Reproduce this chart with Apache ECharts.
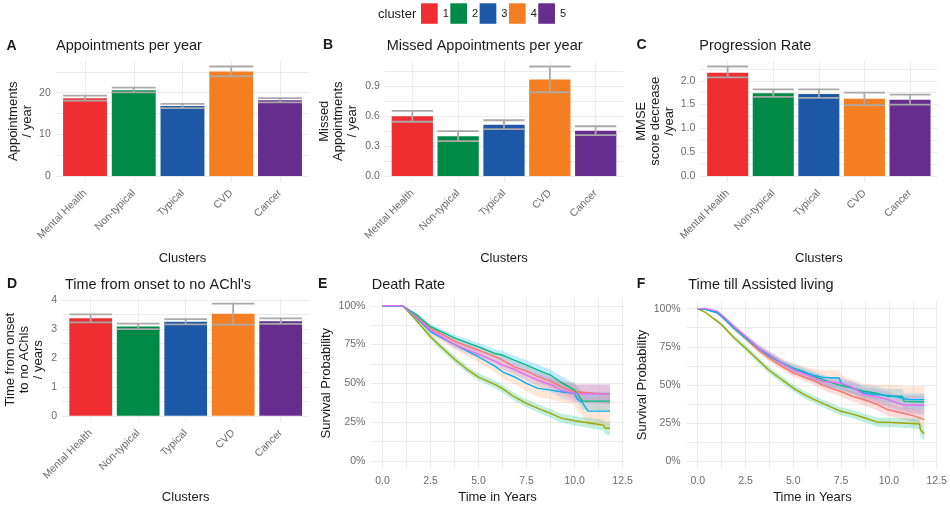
<!DOCTYPE html>
<html><head><meta charset="utf-8">
<script src="https://cdn.jsdelivr.net/npm/echarts@6/dist/echarts.min.js"></script>
<style>html,body{margin:0;padding:0;background:#fff}#c{width:950px;height:507px}</style>
</head><body><div id="c"></div>
<script>
// ---------- data ----------
const clusters = ['Mental Health', 'Non-typical', 'Typical', 'CVD', 'Cancer'];
const clusterPos = [1, 2, 3, 4, 5];
const clusterIds = ['1', '2', '3', '4', '5'];

// A: Appointments per year
const apptMean = [18.7, 20.6, 16.8, 25.1, 18.2];
const apptLo   = [18.1, 20.1, 16.3, 23.9, 17.7];
const apptHi   = [19.3, 21.2, 17.3, 26.3, 18.7];
const apptTickVals = [0, 10, 20];
const apptTickLabs = ['0', '10', '20'];

// B: Missed appointments per year
const missMean = [0.60, 0.40, 0.515, 0.97, 0.455];
const missLo   = [0.545, 0.35, 0.47, 0.84, 0.41];
const missHi   = [0.655, 0.45, 0.56, 1.10, 0.50];
const missTickVals = [0, 0.3, 0.6, 0.9];
const missTickLabs = ['0.0', '0.3', '0.6', '0.9'];

// C: Progression rate
const progMean = [2.17, 1.74, 1.72, 1.62, 1.60];
const progLo   = [2.07, 1.66, 1.64, 1.49, 1.50];
const progHi   = [2.30, 1.82, 1.82, 1.75, 1.71];
const progTickVals = [0, 0.5, 1.0, 1.5, 2.0];
const progTickLabs = ['0.0', '0.5', '1.0', '1.5', '2.0'];

// D: Time from onset to no AChI's
const achMean = [3.37, 3.09, 3.25, 3.53, 3.27];
const achLo   = [3.23, 3.00, 3.16, 3.15, 3.18];
const achHi   = [3.51, 3.19, 3.34, 3.88, 3.37];
const achTickVals = [0, 1, 2, 3, 4];
const achTickLabs = ['0', '1', '2', '3', '4'];

// KM tick labels
const timeTickVals = [0, 2.5, 5, 7.5, 10, 12.5];
const timeTickLabs = ['0.0', '2.5', '5.0', '7.5', '10.0', '12.5'];
const survTickVals = [0, 0.25, 0.5, 0.75, 1];
const survTickLabs = ['0%', '25%', '50%', '75%', '100%'];

// E: Death rate (time, survival, CI half-width) per cluster 1..5
const deathT1 = [0, 1.05, 1.8, 2.5, 3.8, 5.0, 5.9, 6.25, 6.85, 7.5, 8.1, 8.75, 9.3, 10.0, 10.7, 11.85];
const deathS1 = [1, 1, 0.93, 0.855, 0.768, 0.714, 0.67, 0.649, 0.606, 0.578, 0.542, 0.514, 0.477, 0.445, 0.439, 0.428];
const deathW1 = [0, 0, 0.012, 0.018, 0.022, 0.026, 0.028, 0.03, 0.032, 0.034, 0.036, 0.04, 0.045, 0.05, 0.055, 0.06];
const deathT2 = [0, 1.05, 1.8, 2.5, 3.0, 3.8, 4.4, 5.0, 5.9, 6.25, 6.85, 7.5, 8.1, 8.75, 9.3, 10.0, 10.7, 11.5, 11.6, 11.85];
const deathS2 = [1, 1, 0.90, 0.80, 0.74, 0.65, 0.59, 0.54, 0.49, 0.465, 0.413, 0.37, 0.338, 0.305, 0.275, 0.258, 0.245, 0.23, 0.21, 0.21];
const deathW2 = [0, 0, 0.012, 0.018, 0.02, 0.022, 0.022, 0.023, 0.024, 0.024, 0.025, 0.025, 0.026, 0.027, 0.028, 0.03, 0.032, 0.035, 0.04, 0.045];
const deathT3 = [0, 1.05, 1.8, 2.5, 3.8, 5.0, 5.9, 6.25, 6.85, 7.5, 8.1, 8.75, 9.3, 10.0, 10.2, 10.4, 11.85];
const deathS3 = [1, 1, 0.94, 0.865, 0.79, 0.735, 0.69, 0.682, 0.649, 0.617, 0.585, 0.553, 0.505, 0.456, 0.424, 0.385, 0.385];
const deathW3 = [0, 0, 0.01, 0.015, 0.02, 0.025, 0.027, 0.028, 0.03, 0.032, 0.034, 0.036, 0.04, 0.045, 0.05, 0.055, 0.06];
const deathT4 = [0, 1.05, 1.8, 2.5, 3.8, 5.0, 5.9, 6.25, 6.85, 7.5, 8.1, 8.75, 9.3, 10.0, 10.15, 10.4, 10.7, 11.85];
const deathS4 = [1, 1, 0.918, 0.832, 0.746, 0.671, 0.606, 0.574, 0.542, 0.499, 0.467, 0.456, 0.445, 0.434, 0.398, 0.376, 0.32, 0.32];
const deathW4 = [0, 0, 0.015, 0.022, 0.03, 0.035, 0.04, 0.042, 0.045, 0.05, 0.055, 0.06, 0.065, 0.07, 0.075, 0.08, 0.09, 0.1];
const deathT5 = [0, 1.05, 1.8, 2.5, 3.8, 5.0, 5.9, 6.25, 6.85, 7.5, 8.1, 8.75, 9.3, 10.0, 10.7, 11.85];
const deathS5 = [1, 1, 0.923, 0.843, 0.746, 0.686, 0.639, 0.617, 0.591, 0.553, 0.52, 0.492, 0.456, 0.434, 0.432, 0.43];
const deathW5 = [0, 0, 0.012, 0.018, 0.022, 0.026, 0.028, 0.03, 0.033, 0.036, 0.04, 0.045, 0.05, 0.055, 0.06, 0.065];

// F: Time till assisted living
const aslT1 = [0, 0.4, 1.0, 1.25, 1.9, 2.5, 3.15, 3.7, 4.4, 5.0, 5.6, 6.1, 6.55, 7.45, 8.1, 8.7, 9.3, 9.95, 10.7, 11.4, 11.85];
const aslS1 = [1, 0.995, 0.975, 0.95, 0.87, 0.808, 0.731, 0.681, 0.622, 0.579, 0.55, 0.528, 0.498, 0.459, 0.426, 0.404, 0.376, 0.338, 0.317, 0.295, 0.273];
const aslW1 = [0, 0.003, 0.006, 0.008, 0.012, 0.015, 0.018, 0.02, 0.022, 0.024, 0.026, 0.028, 0.03, 0.032, 0.034, 0.036, 0.038, 0.04, 0.042, 0.045, 0.05];
const aslT2 = [0, 0.4, 1.0, 1.25, 1.9, 2.5, 3.15, 3.7, 4.4, 5.0, 5.6, 6.1, 6.9, 7.5, 8.2, 8.75, 9.35, 10.0, 10.7, 11.2, 11.6, 11.65, 11.85];
const aslS2 = [1, 0.975, 0.92, 0.895, 0.81, 0.742, 0.665, 0.60, 0.535, 0.48, 0.435, 0.404, 0.36, 0.328, 0.306, 0.284, 0.258, 0.255, 0.251, 0.248, 0.245, 0.207, 0.179];
const aslW2 = [0, 0.005, 0.01, 0.012, 0.016, 0.018, 0.02, 0.021, 0.022, 0.023, 0.024, 0.024, 0.025, 0.026, 0.027, 0.028, 0.029, 0.03, 0.031, 0.032, 0.034, 0.04, 0.045];
const aslT3 = [0, 0.4, 1.0, 1.25, 1.9, 2.5, 3.15, 3.7, 4.4, 5.0, 5.6, 6.1, 6.55, 7.45, 8.1, 8.7, 9.3, 9.95, 10.7, 10.8, 11.85];
const aslS3 = [1, 0.995, 0.975, 0.95, 0.873, 0.808, 0.745, 0.699, 0.644, 0.611, 0.585, 0.557, 0.535, 0.498, 0.48, 0.459, 0.448, 0.426, 0.426, 0.393, 0.389];
const aslW3 = [0, 0.003, 0.006, 0.008, 0.012, 0.015, 0.018, 0.02, 0.022, 0.025, 0.027, 0.03, 0.032, 0.035, 0.038, 0.04, 0.043, 0.046, 0.05, 0.052, 0.055];
const aslT4 = [0, 0.4, 1.0, 1.25, 1.9, 2.5, 3.15, 3.7, 4.4, 5.0, 5.6, 6.1, 6.55, 7.4, 7.5, 8.1, 8.7, 9.3, 9.95, 10.7, 11.0, 11.85];
const aslS4 = [1, 0.995, 0.975, 0.95, 0.875, 0.812, 0.745, 0.694, 0.645, 0.607, 0.58, 0.563, 0.55, 0.546, 0.513, 0.48, 0.448, 0.437, 0.432, 0.415, 0.404, 0.404];
const aslW4 = [0, 0.004, 0.008, 0.01, 0.016, 0.02, 0.025, 0.028, 0.032, 0.036, 0.04, 0.044, 0.048, 0.05, 0.052, 0.056, 0.06, 0.065, 0.07, 0.08, 0.085, 0.09];
const aslT5 = [0, 0.4, 1.0, 1.25, 1.9, 2.5, 3.15, 3.7, 4.4, 5.0, 5.6, 6.1, 6.55, 7.45, 8.1, 8.7, 9.3, 9.95, 10.7, 11.85];
const aslS5 = [1, 1, 0.985, 0.96, 0.884, 0.819, 0.747, 0.703, 0.644, 0.60, 0.572, 0.546, 0.524, 0.513, 0.485, 0.437, 0.426, 0.404, 0.371, 0.367];
const aslW5 = [0, 0.002, 0.005, 0.008, 0.012, 0.015, 0.018, 0.02, 0.022, 0.025, 0.028, 0.03, 0.032, 0.036, 0.04, 0.044, 0.048, 0.052, 0.058, 0.065];

// ---------- styles ----------
const FF = 'Liberation Sans, Arial, sans-serif';
const barColors = ['#EE2E31', '#008A47', '#1C58A5', '#F47E21', '#662D8F'];
const kmColors = ['#F8766D', '#A3A500', '#00BF7D', '#00B0F6', '#E76BF3'];
const bandColors = ['#F8766D', '#00BF7D', '#00B0F6', '#F9A066', '#A07FE6'];
const GRID = '#EBEBEB';
const TICK = '#6b6b6b';
const TXT = '#1a1a1a';

function fmt(vals, labs) {
  return function (v) {
    for (let i = 0; i < vals.length; i++) if (Math.abs(v - vals[i]) < 1e-6) return labs[i];
    return '';
  };
}

const grids = [], xAxes = [], yAxes = [], series = [];

function errRender(params, api) {
  const x = api.value(0);
  const pLo = api.coord([x, api.value(1)]);
  const pHi = api.coord([x, api.value(2)]);
  const w = api.size([1, 0])[0] * 0.9;
  const st = { stroke: '#A9A9A9', lineWidth: 1.8 };
  return { type: 'group', children: [
    { type: 'line', shape: { x1: pLo[0], y1: pLo[1], x2: pHi[0], y2: pHi[1] }, style: st },
    { type: 'line', shape: { x1: pLo[0] - w / 2, y1: pLo[1], x2: pLo[0] + w / 2, y2: pLo[1] }, style: st },
    { type: 'line', shape: { x1: pHi[0] - w / 2, y1: pHi[1], x2: pHi[0] + w / 2, y2: pHi[1] }, style: st }
  ]};
}

function barPanel(box, mean, lo, hi, yr, minor, tv, tl, yName, yGap) {
  const gi = grids.length;
  grids.push(Object.assign({ outerBoundsMode: 'none', containLabel: false }, box));
  xAxes.push({
    type: 'value', gridIndex: gi, min: 0.4, max: 5.6, minInterval: 1, maxInterval: 1,
    axisLine: { show: false, onZero: false }, axisTick: { show: false },
    axisLabel: { rotate: 45, formatter: fmt(clusterPos, clusters), color: TICK, fontSize: 10.5, margin: 10, fontFamily: FF, showMinLabel: false, showMaxLabel: false },
    splitLine: { show: true, showMinLine: false, showMaxLine: false, lineStyle: { color: GRID, width: 1 } },
    name: 'Clusters', nameLocation: 'middle', nameGap: 70,
    nameTextStyle: { fontSize: 13, color: TXT, fontFamily: FF }
  });
  yAxes.push({
    type: 'value', gridIndex: gi, min: yr[0], max: yr[1], minInterval: minor, maxInterval: minor, splitNumber: 5,
    axisLine: { show: false }, axisTick: { show: false },
    axisLabel: { formatter: fmt(tv, tl), color: TICK, fontSize: 10.5, margin: 5, fontFamily: FF, showMinLabel: false, showMaxLabel: false },
    splitLine: { show: true, showMinLine: false, showMaxLine: false, lineStyle: { color: GRID, width: 1 } },
    name: yName, nameLocation: 'middle', nameRotate: 90, nameGap: yGap,
    nameTextStyle: { fontSize: 13, color: TXT, lineHeight: 14, fontFamily: FF, align: 'center' }
  });
  clusterIds.forEach(function (id, k) {
    series.push({
      type: 'bar', name: id, xAxisIndex: gi, yAxisIndex: gi,
      data: [[clusterPos[k], mean[k]]],
      barWidth: '90%', barGap: '-100%', itemStyle: { color: barColors[k] }, z: 2, silent: true
    });
  });
  series.push({
    type: 'custom', xAxisIndex: gi, yAxisIndex: gi, silent: true, z: 3,
    data: clusterPos.map(function (p, j) { return [p, lo[j], hi[j]]; }),
    encode: { x: 0, y: [1, 2] }, renderItem: errRender
  });
}

function bandRender(pts, color) {
  return function (params, api) {
    if (params.dataIndex !== 0) return null;
    const up = pts.map(function (p) { return api.coord([p[0], p[2]]); });
    const dn = pts.map(function (p) { return api.coord([p[0], p[1]]); }).reverse();
    return { type: 'polygon', shape: { points: up.concat(dn) }, style: { fill: color, opacity: 0.25 } };
  };
}

function kmPanel(box, xr, curves, tag) {
  const gi = grids.length;
  grids.push(Object.assign({ outerBoundsMode: 'none', containLabel: false }, box));
  xAxes.push({
    type: 'value', gridIndex: gi, min: xr[0], max: xr[1], minInterval: 1.25, maxInterval: 1.25,
    axisLine: { show: false, onZero: false }, axisTick: { show: false },
    axisLabel: { formatter: fmt(timeTickVals, timeTickLabs), color: TICK, fontSize: 10.5, margin: 7, fontFamily: FF, showMinLabel: false, showMaxLabel: false },
    splitLine: { show: true, showMinLine: false, showMaxLine: false, lineStyle: { color: GRID, width: 1 } },
    name: 'Time in Years', nameLocation: 'middle', nameGap: 22,
    nameTextStyle: { fontSize: 13, color: TXT, fontFamily: FF }
  });
  yAxes.push({
    type: 'value', gridIndex: gi, min: -0.05, max: 1.05, minInterval: 0.125, maxInterval: 0.125,
    axisLine: { show: false }, axisTick: { show: false },
    axisLabel: { formatter: fmt(survTickVals, survTickLabs), color: TICK, fontSize: 10.5, margin: 6, fontFamily: FF, showMinLabel: false, showMaxLabel: false },
    splitLine: { show: true, showMinLine: false, showMaxLine: false, lineStyle: { color: GRID, width: 1 } },
    name: 'Survival Probability', nameLocation: 'middle', nameRotate: 90, nameGap: 38,
    nameTextStyle: { fontSize: 13, color: TXT, fontFamily: FF }
  });
  curves.forEach(function (cv, k) {
    const pts = cv[0].map(function (t, i) { return [t, cv[1][i] - cv[2][i], cv[1][i] + cv[2][i]]; });
    series.push({
      type: 'custom', xAxisIndex: gi, yAxisIndex: gi, silent: true, z: 1,
      data: pts, encode: { x: 0, y: [1, 2] }, renderItem: bandRender(pts, bandColors[k])
    });
  });
  curves.forEach(function (cv, k) {
    series.push({
      type: 'line', name: tag + clusterIds[k], xAxisIndex: gi, yAxisIndex: gi, silent: true, z: 3,
      data: cv[0].map(function (t, i) { return [t, cv[1][i]]; }),
      symbol: 'none', showSymbol: false, lineStyle: { color: kmColors[k], width: 1.4 }, itemStyle: { color: kmColors[k] }
    });
  });
}

barPanel({ left: 55.75, top: 61, width: 253.5, height: 120.5 }, apptMean, apptLo, apptHi, [-1.315, 27.615], 5,
  apptTickVals, apptTickLabs, 'Appointments\n/ year', 21);
barPanel({ left: 384.8, top: 61, width: 238.4, height: 120.5 }, missMean, missLo, missHi, [-0.055, 1.155], 0.15,
  missTickVals, missTickLabs, 'Missed\nAppointments\n/ year', 25);
barPanel({ left: 700.3, top: 61, width: 237.1, height: 120.5 }, progMean, progLo, progHi, [-0.115, 2.415], 0.25,
  progTickVals, progTickLabs, 'MMSE\nscore decrease\n/year', 23);
barPanel({ left: 62.2, top: 298, width: 247, height: 123.4 }, achMean, achLo, achHi, [-0.194, 4.074], 0.5,
  achTickVals, achTickLabs, 'Time from onset\nto no AChls\n/ years', 17);

kmPanel({ left: 371.4, top: 298, width: 252.1, height: 170.5 }, [-0.58, 12.55], [
  [deathT1, deathS1, deathW1], [deathT2, deathS2, deathW2], [deathT3, deathS3, deathW3],
  [deathT4, deathS4, deathW4], [deathT5, deathS5, deathW5]], 'E');
kmPanel({ left: 686.6, top: 301, width: 251.6, height: 168 }, [-0.58, 12.58], [
  [aslT1, aslS1, aslW1], [aslT2, aslS2, aslW2], [aslT3, aslS3, aslW3],
  [aslT4, aslS4, aslW4], [aslT5, aslS5, aslW5]], 'F');

function T(text, left, top, size, bold) {
  return { text: text, left: left, top: top, padding: 0,
    textStyle: { fontSize: size, fontWeight: bold ? 'bold' : 'normal', color: TXT, fontFamily: FF } };
}
const titles = [
  T('cluster', 378, 7.5, 13, false),
  T('A', 6.5, 39, 14, true), T('Appointments per year', 56, 38.5, 14.5, false),
  T('B', 323, 38.5, 14, true), T('Missed Appointments per year', 386.7, 38.5, 14.5, false),
  T('C', 636.5, 38.5, 14, true), T('Progression Rate', 699.3, 38.5, 14.5, false),
  T('D', 7, 277.5, 14, true), T("Time from onset to no AChl's", 65, 277, 14.5, false),
  T('E', 318, 277.5, 14, true), T('Death Rate', 371.7, 277, 14.5, false),
  T('F', 636.7, 277.5, 14, true), T('Time till Assisted living', 688.3, 277, 14.5, false)
];

const chart = echarts.init(document.getElementById('c'), null, { renderer: 'canvas' });
chart.setOption({
  animation: false,
  backgroundColor: '#ffffff',
  textStyle: { fontFamily: FF },
  title: titles,
  legend: {
    data: clusterIds, left: 421, top: 3.3, padding: 0, orient: 'horizontal',
    itemWidth: 16.7, itemHeight: 20.5, itemGap: 1.5, icon: 'rect',
    itemStyle: { borderWidth: 0 },
    textStyle: { fontSize: 11, color: TXT, fontFamily: FF }
  },
  grid: grids, xAxis: xAxes, yAxis: yAxes, series: series
});
</script></body></html>
